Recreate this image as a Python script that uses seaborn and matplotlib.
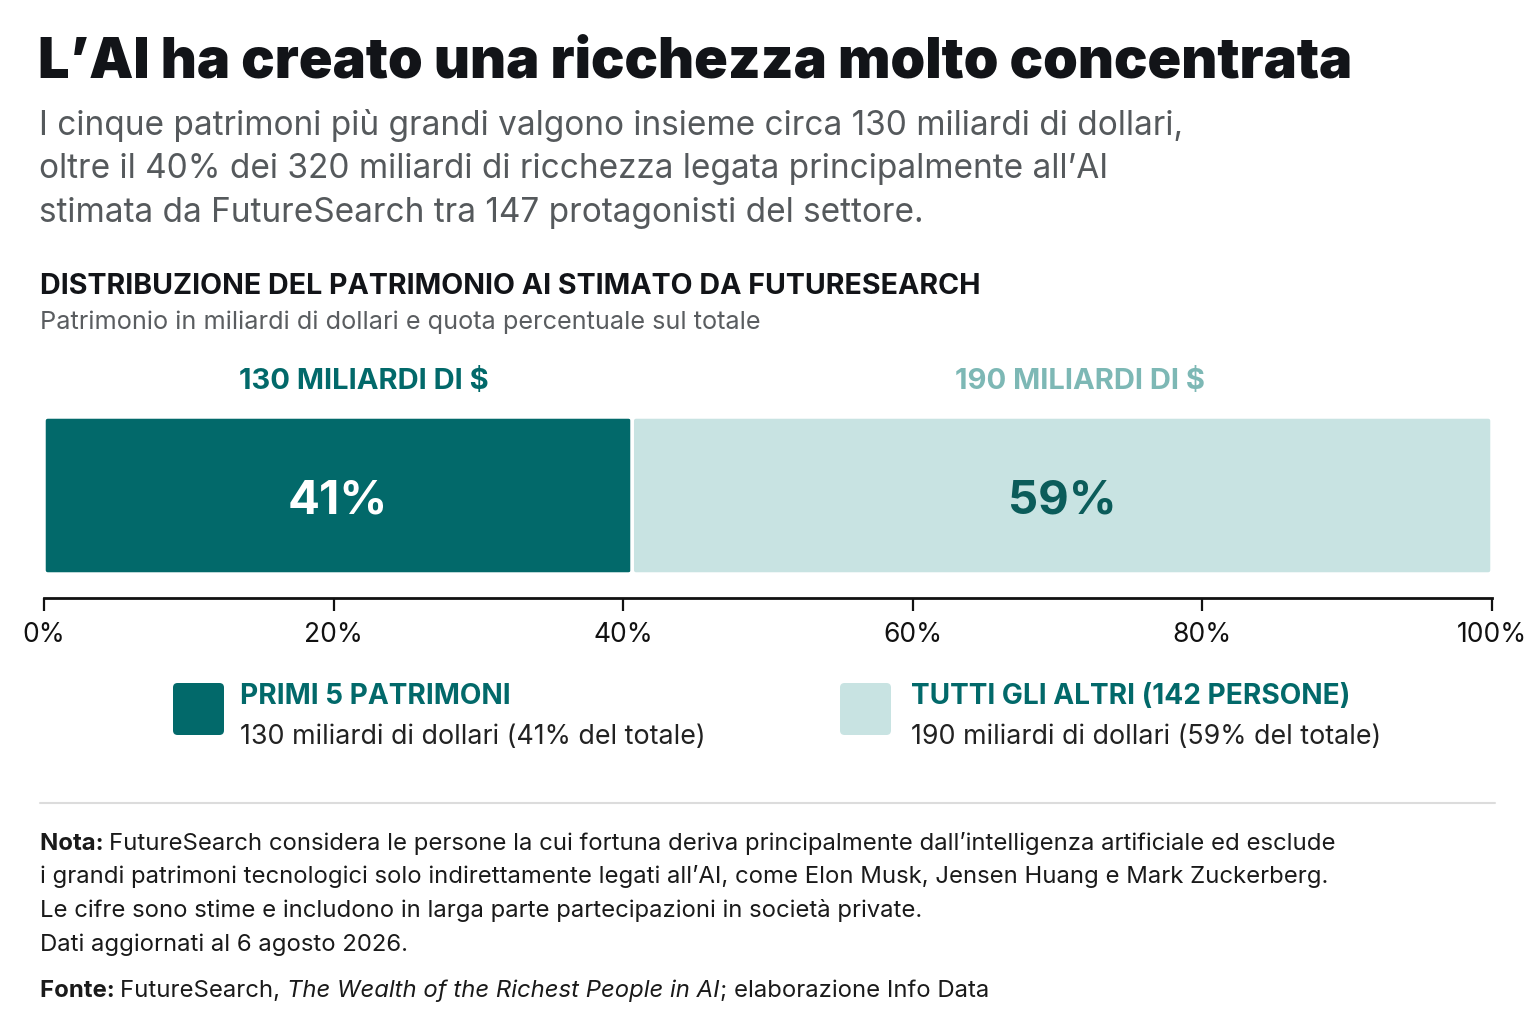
import matplotlib.pyplot as plt
import seaborn as sns
import pandas as pd
from matplotlib.patches import FancyBboxPatch
from matplotlib.lines import Line2D

# data
segments = ['PRIMI 5 PATRIMONI', 'TUTTI GLI ALTRI (142 PERSONE)']
amounts = [130, 190]  # miliardi di dollari
share_labels = ['41%', '59%']
amount_labels = ['130 MILIARDI DI $', '190 MILIARDI DI $']
detail_labels = ['130 miliardi di dollari (41% del totale)',
                 '190 miliardi di dollari (59% del totale)']
tick_values = [0, 20, 40, 60, 80, 100]

df = pd.DataFrame({'segment': segments, 'amount': amounts})
df['share'] = df['amount'] / df['amount'].sum() * 100
df['left'] = df['share'].cumsum() - df['share']
df['row'] = 'totale'

DARK = '#02696a'
LIGHT = '#c8e3e2'
LIGHT_TXT = '#7db8b5'
INK = '#121418'

sns.set_theme(style='white')
plt.rcParams['font.family'] = ['Inter', 'DejaVu Sans']

W, H = 1536, 1024
fig = plt.figure(figsize=(W / 100, H / 100), dpi=100)
fig.patch.set_facecolor('white')


def fx(x):
    return x / W


def fy(y):
    return 1 - y / H


def ftext(x, y, s, **kw):
    kw.setdefault('va', 'center')
    kw.setdefault('ha', 'left')
    return fig.text(fx(x), fy(y), s, **kw)


# titles
ftext(38, 62, "L’AI ha creato una ricchezza molto concentrata", fontsize=40.1,
      fontweight='black', color=INK)
sub = ["I cinque patrimoni più grandi valgono insieme circa 130 miliardi di dollari,",
       "oltre il 40% dei 320 miliardi di ricchezza legata principalmente all’AI",
       "stimata da FutureSearch tra 147 protagonisti del settore."]
for i, line in enumerate(sub):
    ftext(39, 125 + i * 44, line, fontsize=24, color='#55595c')
ftext(40, 286, 'DISTRIBUZIONE DEL PATRIMONIO AI STIMATO DA FUTURESEARCH',
      fontsize=20.6, fontweight='bold', color=INK)
ftext(40, 322, 'Patrimonio in miliardi di dollari e quota percentuale sul totale',
      fontsize=18.2, color='#5a5d60')

# stacked bar
ax = fig.add_axes([fx(44), fy(598), fx(1492) - fx(44), (598 - 417) / H])
colors = [DARK, LIGHT]
for i, r in df.iterrows():
    sns.barplot(x=[r['share']], y=[r['row']], left=r['left'], color=colors[i],
                saturation=1, width=0.8, orient='h', edgecolor='white',
                linewidth=2.5, ax=ax)
ax.set_xlim(0, 100)
ax.set_ylim(0.4 + 0.8 * (598 - 417) / 157 - 0.8, -0.4)

# round the bar corners
px_x = 100 / (1492 - 44)
px_y = (ax.get_ylim()[0] - ax.get_ylim()[1]) / (598 - 417)
for p in list(ax.patches):
    x0, y0, w, h = p.get_x(), p.get_y(), p.get_width(), p.get_height()
    fb = FancyBboxPatch((x0, y0), w, h,
                        boxstyle=f'round,pad=0,rounding_size={4 * px_x}',
                        mutation_aspect=px_y / px_x,
                        facecolor=p.get_facecolor(), edgecolor='white',
                        linewidth=2.5)
    p.remove()
    ax.add_patch(fb)

pct_colors = ['white', '#0b5c5a']
amt_colors = [DARK, LIGHT_TXT]
amt_shift = [1.8, 1.2]
for i, r in df.iterrows():
    mid = r['left'] + r['share'] / 2
    ax.text(mid, 6 * px_y, share_labels[i], ha='center', va='center', fontsize=34,
            fontweight='bold', color=pct_colors[i])
    ax.text(mid + amt_shift[i], -0.4 - 35 * px_y, amount_labels[i], ha='center',
            va='center', fontsize=21, fontweight='bold', color=amt_colors[i])

ax.set_xticks(tick_values)
ax.set_xticklabels([f'{t}%' for t in tick_values])
ax.set_yticks([])
ax.set_xlabel('')
ax.set_ylabel('')
for s in ['top', 'left', 'right']:
    ax.spines[s].set_visible(False)
ax.spines['bottom'].set_color('#111')
ax.spines['bottom'].set_linewidth(2)
ax.tick_params(axis='x', direction='out', length=9, width=1.6, colors='#111',
               labelsize=19, pad=8, bottom=True)
ax.set_facecolor('none')

# legend
leg_x = [173, 840]
txt_x = [240, 911]
for i in range(2):
    fig.patches.append(FancyBboxPatch((fx(leg_x[i]), fy(735)), fx(51), 52 / H,
                                      boxstyle='round,pad=0,rounding_size=0.003',
                                      mutation_aspect=W / H,
                                      transform=fig.transFigure,
                                      facecolor=colors[i], edgecolor='none'))
    ftext(txt_x[i], 696, segments[i], fontsize=20.2, fontweight='bold', color=DARK)
    ftext(txt_x[i], 737, detail_labels[i], fontsize=19.3, color='#222')

# separator
fig.add_artist(Line2D([fx(40), fx(1495)], [fy(803), fy(803)], color='#dcdcdc',
                      linewidth=1.5, transform=fig.transFigure))

# notes
bg = fig.add_axes([0, 0, 1, 1])
bg.axis('off')
bg.set_zorder(-1)
NOTE = 17.2


def rich(x, y, parts, size=NOTE):
    prev = None
    for txt, kw in parts:
        if prev is None:
            prev = ftext(x, y, txt, fontsize=size, color='#1a1a1a', **kw)
        else:
            prev = bg.annotate(txt, xy=(1, 0), xycoords=prev, va='bottom',
                               ha='left', fontsize=size, color='#1a1a1a', **kw)


rich(40, 844, [('Nota: ', dict(fontweight='bold')),
               ('FutureSearch considera le persone la cui fortuna deriva principalmente '
                'dall’intelligenza artificiale ed esclude', {})])
ftext(40, 877, 'i grandi patrimoni tecnologici solo indirettamente legati all’AI, '
      'come Elon Musk, Jensen Huang e Mark Zuckerberg.', fontsize=NOTE, color='#1a1a1a')
ftext(40, 911, 'Le cifre sono stime e includono in larga parte partecipazioni in '
      'società private.', fontsize=NOTE, color='#1a1a1a')
ftext(40, 945, 'Dati aggiornati al 6 agosto 2026.', fontsize=NOTE, color='#1a1a1a')
rich(40, 991, [('Fonte: ', dict(fontweight='bold')),
               ('FutureSearch, ', {}),
               ('The Wealth of the Richest People in AI', dict(style='italic')),
               ('; elaborazione Info Data', {})])

fig.savefig('out.png', dpi=100, facecolor='white')
